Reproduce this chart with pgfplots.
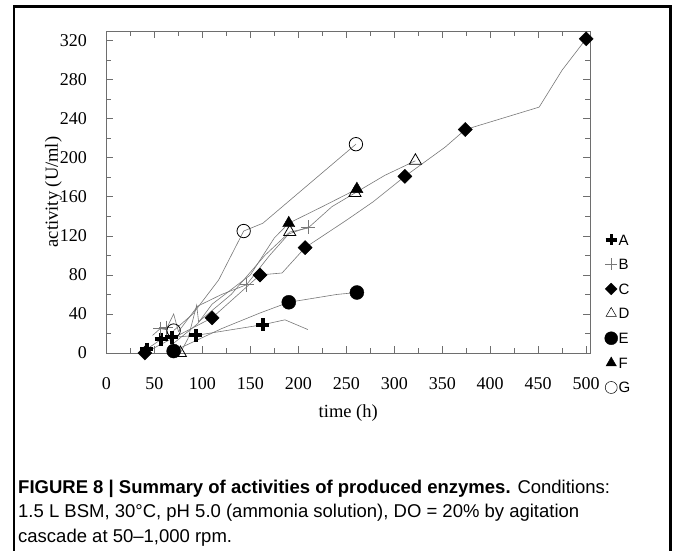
\documentclass[border=0pt]{standalone}
\usepackage{fontspec}
\setmainfont{Liberation Serif}
\setsansfont{Liberation Sans}
\usepackage{pgfplots}
\pgfplotsset{compat=1.18}
\definecolor{axgray}{RGB}{110,110,110}
\definecolor{lngray}{RGB}{120,120,120}
\begin{document}
\begin{tikzpicture}[x=1pt,y=1pt]
\useasboundingbox (0,0) rectangle (673,550);
\draw[line width=2.5pt] (14,-10) -- (14,543.5) -- (670.5,543.5) -- (670.5,-10);
\begin{axis}[at={(106.5pt,197pt)}, anchor=south west, scale only axis,
  width=483.5pt, height=322pt,
  xmin=0, xmax=504, ymin=0, ymax=330,
  xtick={0,50,...,500}, ytick={0,40,...,320},
  minor x tick num=1, minor y tick num=1,
  axis line style={axgray, line width=0.8pt},
  every tick/.style={axgray, line width=0.8pt},
  major tick length=7pt, minor tick length=5pt,
  tick label style={font=\fontsize{18}{18}\selectfont},
  /pgf/number format/assume math mode=true,
  xticklabel style={anchor=center, yshift=-31pt},
  yticklabel style={anchor=east, inner sep=0pt, xshift=-19.5pt},
  xlabel={time (h)}, ylabel={activity (U/ml)},
  every axis x label/.style={at={(axis description cs:0.5,0)}, anchor=center, yshift=-60pt, font=\fontsize{18.5}{18.5}\selectfont},
  every axis y label/.style={at={(axis description cs:0,0.5)}, xshift=-53pt, anchor=center, rotate=90, font=\fontsize{18.5}{18.5}\selectfont},
  clip=false,
  legend image code/.code={\draw[#1] plot coordinates {(0pt,0pt)};},
  legend style={at={(1.03,0.371)}, anchor=north west, draw=none, fill=none,
    font=\sffamily\fontsize{15}{15}\selectfont, row sep=12pt, inner sep=0pt,
    nodes={inner sep=1pt, text height=10.5pt, text depth=0pt}},
  legend cell align=left,
]
% A
\addplot[lngray, line width=0.6pt, forget plot] coordinates {(42,4)(57,14)(68,16)(93,18)(163,29)(186,34)(210,24)};
\addplot[only marks, mark=+, mark size=6.5pt, mark options={black, line width=4pt}, forget plot] coordinates {(42,4)(57,14)(68,16)(93,18)(163,29)};
% B
\addplot[lngray, line width=0.6pt, forget plot] coordinates {(48,18)(56,25)(62,24)(70,40)(75,22)(95,48)(120,60)(146,70)(170,100)(190,122)(210,129)};
\addplot[only marks, mark=+, mark size=7pt, mark options={lngray, line width=0.6pt}, forget plot] coordinates {(56,25)(62,26)(146,70)(210,129)};
% C
\addplot[lngray, line width=0.6pt, forget plot] coordinates {(40,0)(55,8)(110,36)(160,80)(183,82)(207,108)(250,136)(278,155)(311,181)(353,211)(374,229)(451,252)(475,290)(500,322)};
\addplot[only marks, mark=square*, mark size=5pt, mark options={black, rotate=45}, forget plot] coordinates {(40,0)(110,36)(160,80)(207,108)(311,181)(374,229)(500,322)};
% D
\addplot[lngray, line width=0.6pt, forget plot] coordinates {(77,0)(85,15)(94,49)(96,32)(130,60)(165,100)(191,124)(210,128)(235,150)(259,164)(290,182)(322,197)};
\addplot[only marks, mark=triangle, mark size=7pt, mark options={black, fill=white, line width=0.8pt}, forget plot] coordinates {(77,0)(191,124)(259,164)(322,197)};
% E
\addplot[lngray, line width=0.6pt, forget plot] coordinates {(70,2)(120,25)(160,41)(190,52)(240,60)(261,62)};
\addplot[only marks, mark=*, mark size=7pt, mark options={black}, forget plot] coordinates {(70,2)(190,52)(261,62)};
% F
\addplot[lngray, line width=0.6pt, forget plot] coordinates {(70,10)(95,30)(110,50)(150,80)(175,118)(190,133)(225,150)(261,168)};
\addplot[only marks, mark=triangle*, mark size=7pt, mark options={black}, forget plot] coordinates {(190,133)(261,168)};
% G
\addplot[lngray, line width=0.6pt, forget plot] coordinates {(70,23)(90,40)(117,75)(143,125)(163,133)(260,214)};
\addplot[only marks, mark=o, mark size=6.7pt, mark options={black, line width=0.8pt}, forget plot] coordinates {(70,23)(143,125)(260,214)};
% legend
\addlegendimage{mark=+, mark size=5.5pt, mark options={black, line width=3.2pt}}
\addlegendentry{A}
\addlegendimage{mark=+, mark size=6pt, mark options={lngray, line width=0.5pt}}
\addlegendentry{B}
\addlegendimage{mark=square*, mark size=4.2pt, mark options={black, rotate=45}}
\addlegendentry{C}
\addlegendimage{mark=triangle, mark size=6pt, mark options={black, line width=0.5pt}}
\addlegendentry{D}
\addlegendimage{mark=*, mark size=6.5pt, mark options={black}}
\addlegendentry{E}
\addlegendimage{mark=triangle*, mark size=6pt, mark options={black}}
\addlegendentry{F}
\addlegendimage{mark=o, mark size=6pt, mark options={black, line width=0.5pt}}
\addlegendentry{G}
\end{axis}
\node[anchor=base west, inner sep=0pt, font=\sffamily\fontsize{18.5}{18.5}\selectfont] at (18,57) {\textbf{FIGURE 8 | Summary of activities of produced enzymes.} Conditions:};
\node[anchor=base west, inner sep=0pt, font=\sffamily\fontsize{18.5}{18.5}\selectfont] at (18,33) {1.5 L BSM, 30°C, pH 5.0 (ammonia solution), DO = 20\% by agitation};
\node[anchor=base west, inner sep=0pt, font=\sffamily\fontsize{18.5}{18.5}\selectfont] at (18,8) {cascade at 50–1,000 rpm.};
\end{tikzpicture}
\end{document}
